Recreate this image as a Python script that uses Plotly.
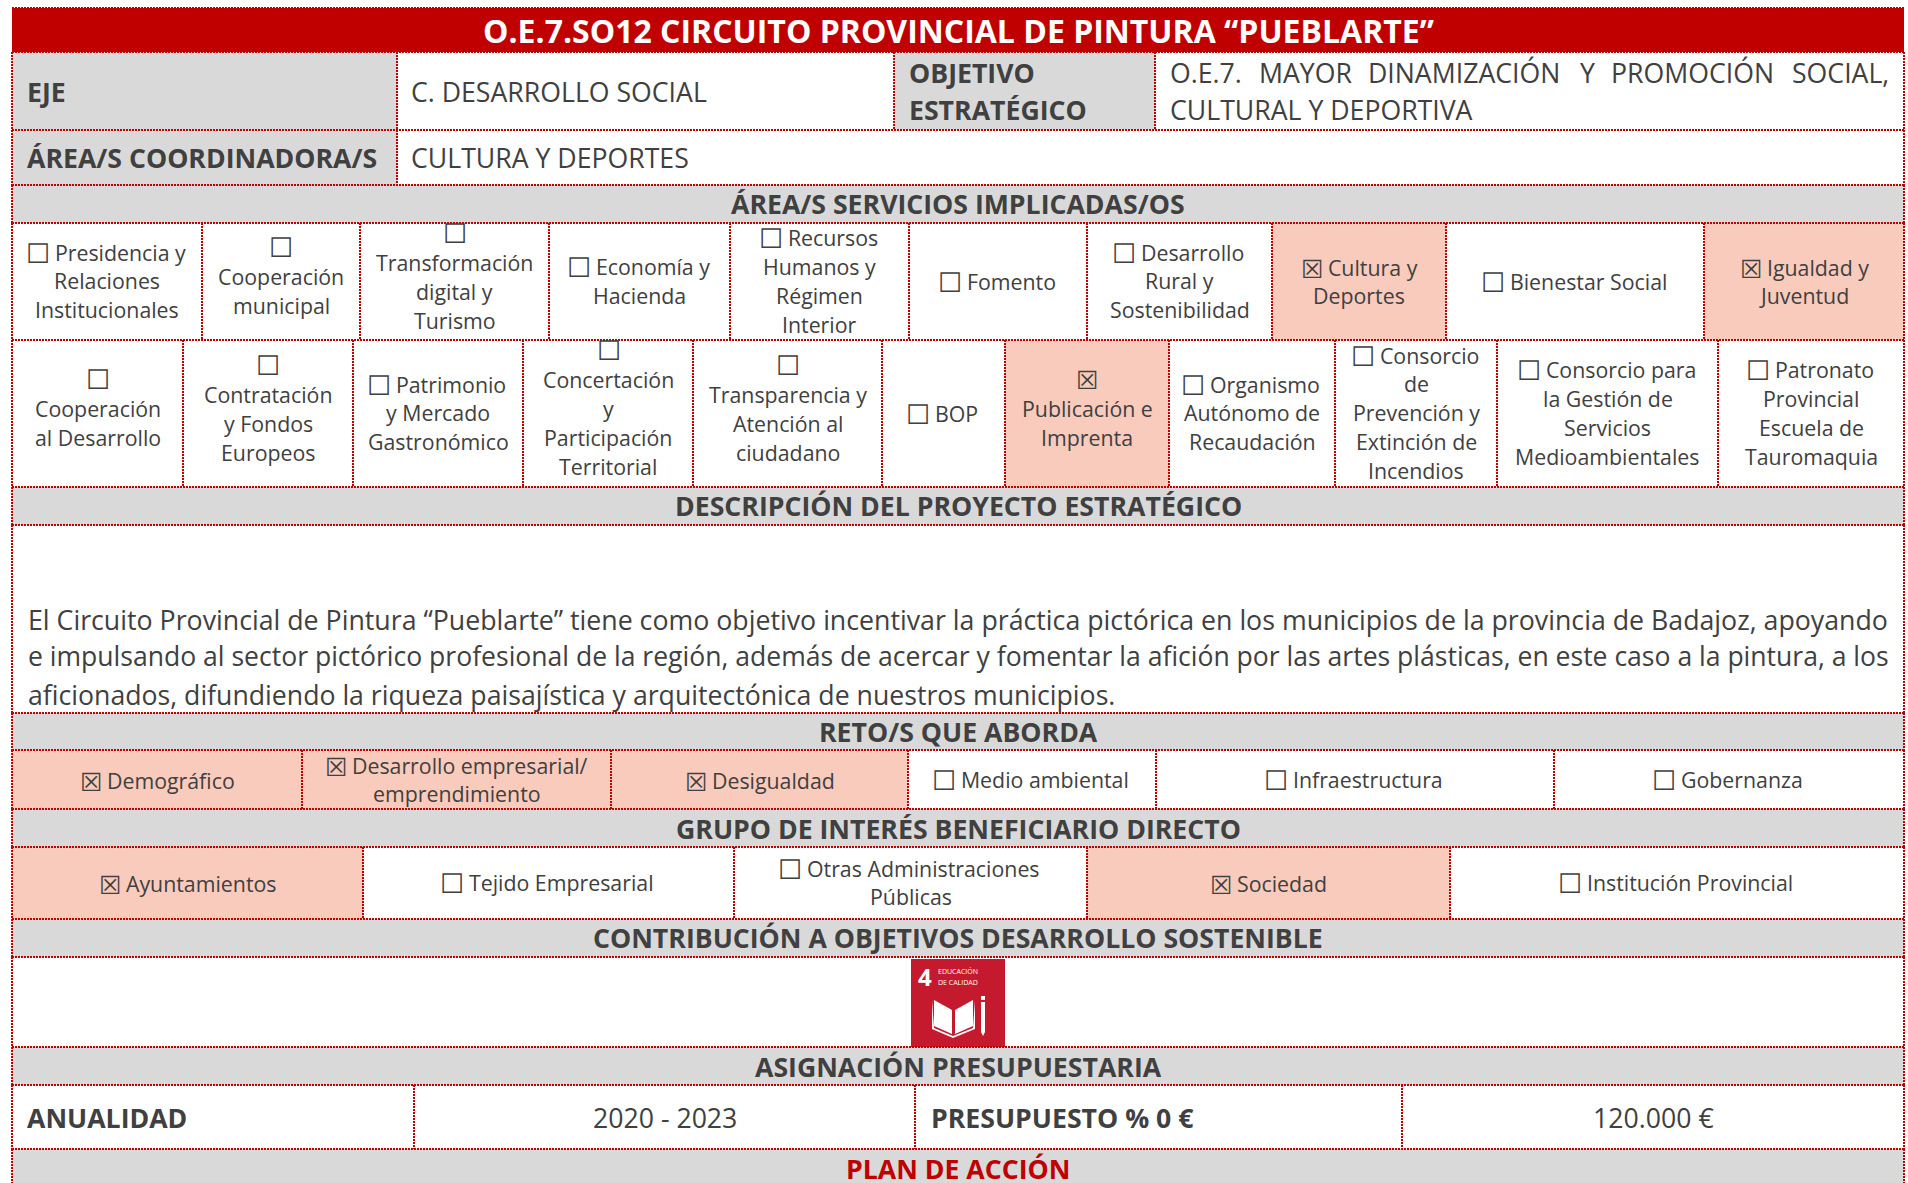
import plotly.graph_objects as go

RED = "#C00000"; GRAY = "#D9D9D9"; PEACH = "#F8CBBC"; TXT = "#404040"
FONT = "Open Sans"
SMALL, BODY, BIG = 21.33, 26.67, 32

TITLE = "O.E.7.SO12 CIRCUITO PROVINCIAL DE PINTURA “PUEBLARTE”"
HEADERS = ["ÁREA/S SERVICIOS IMPLICADAS/OS", "DESCRIPCIÓN DEL PROYECTO ESTRATÉGICO", "RETO/S QUE ABORDA",
           "GRUPO DE INTERÉS BENEFICIARIO DIRECTO", "CONTRIBUCIÓN A OBJETIVOS DESARROLLO SOSTENIBLE",
           "ASIGNACIÓN PRESUPUESTARIA", "PLAN DE ACCIÓN"]
HEADER_Y = [(185, 223), (487, 525), (713, 750), (809, 847), (919, 957), (1047, 1085), (1149, 1190)]
HEADER_TEXT_Y = [203, 505, 731, 828, 937, 1066, 1168]

ROW4 = ["☐ Presidencia y<br>Relaciones<br>Institucionales", "☐<br>Cooperación<br>municipal", "☐<br>Transformación<br>digital y<br>Turismo",
        "☐ Economía y<br>Hacienda", "☐ Recursos<br>Humanos y<br>Régimen<br>Interior", "☐ Fomento", "☐ Desarrollo<br>Rural y<br>Sostenibilidad",
        "☒ Cultura y<br>Deportes", "☐ Bienestar Social", "☒ Igualdad y<br>Juventud"]
ROW4_X = [12, 202, 360, 549, 730, 909, 1087, 1272, 1446, 1704, 1904]
ROW5 = ["☐<br>Cooperación<br>al Desarrollo", "☐<br>Contratación<br>y Fondos<br>Europeos", "☐ Patrimonio<br>y Mercado<br>Gastronómico",
        "☐<br>Concertación<br>y<br>Participación<br>Territorial", "☐<br>Transparencia y<br>Atención al<br>ciudadano", "☐ BOP",
        "☒<br>Publicación e<br>Imprenta", "☐ Organismo<br>Autónomo de<br>Recaudación", "☐ Consorcio<br>de<br>Prevención y<br>Extinción de<br>Incendios",
        "☐ Consorcio para<br>la Gestión de<br>Servicios<br>Medioambientales", "☐ Patronato<br>Provincial<br>Escuela de<br>Tauromaquia"]
ROW5_X = [12, 183, 353, 523, 693, 882, 1005, 1169, 1335, 1497, 1718, 1904]
RETOS = ["☒ Demográfico", "☒ Desarrollo empresarial/<br>emprendimiento", "☒ Desigualdad", "☐ Medio ambiental", "☐ Infraestructura", "☐ Gobernanza"]
RETOS_X = [12, 302, 611, 908, 1156, 1554, 1904]
GRUPOS = ["☒ Ayuntamientos", "☐ Tejido Empresarial", "☐ Otras Administraciones<br>Públicas", "☒ Sociedad", "☐ Institución Provincial"]
GRUPOS_X = [12, 363, 734, 1087, 1450, 1904]
PARRAFO = ["El Circuito Provincial de Pintura “Pueblarte” tiene como objetivo incentivar la práctica pictórica en los municipios de la provincia de Badajoz, apoyando",
           "e impulsando al sector pictórico profesional de la región, además de acercar y fomentar la afición por las artes plásticas, en este caso a la pintura, a los",
           "aficionados, difundiendo la riqueza paisajística y arquitectónica de nuestros municipios."]
PARRAFO_Y = [619, 655.5, 694]
PARRAFO_SIZE = [26.74, 26.55, 26.67]
OE_WORDS = ["O.E.7.", "MAYOR", "DINAMIZACIÓN", "Y", "PROMOCIÓN", "SOCIAL,"]
OE_X = [1170, 1259, 1368, 1580, 1611, 1792]

shapes = []; ann = []

def fill(x0, x1, y0, y1, c):
    shapes.append(dict(type="rect", x0=x0, x1=x1, y0=y0, y1=y1, fillcolor=c, line_width=0, layer="below"))

def hline(x0, x1, y):
    shapes.append(dict(type="line", x0=x0, x1=x1, y0=y, y1=y, line=dict(color=RED, width=2, dash="2px,1px"), layer="below"))

def vline(x, y0, y1):
    shapes.append(dict(type="line", x0=x, x1=x, y0=y0, y1=y1, line=dict(color=RED, width=2, dash="2px,1px"), layer="below"))

def text(x, y, s, size=BODY, bold=False, color=TXT, anchor="center", family=FONT, v="middle"):
    if bold:
        s = "<b>" + s + "</b>"
    ann.append(dict(x=x, y=y, text=s, showarrow=False, xref="x", yref="y", xanchor=anchor, yanchor=v,
                    align=anchor, borderpad=0, borderwidth=0, font=dict(family=family, size=size, color=color)))

BOX_E = '<span style="font-size:27px;baseline-shift:-2px">☐</span>'
BOX_X = '<span style="font-size:25px;baseline-shift:-2px">☒</span>'
BOX_E_TOP = '<span style="font-size:27px">☐</span>'
BOX_X_TOP = '<span style="font-size:25px">☒</span>'

def boxed(line):
    line = line.replace("☐ ", BOX_E + '<span style="font-size:19px"> </span>')
    line = line.replace("☒ ", BOX_X + '<span style="font-size:19px"> </span>')
    line = line.replace("☐<br>", BOX_E_TOP + "<br>")
    line = line.replace("☒<br>", BOX_X_TOP + "<br>")
    return line

def row(labels, xs, y0, y1, size=SMALL, pitch=29):
    for i, s in enumerate(labels):
        if "☒" in s:
            fill(xs[i], xs[i + 1], y0, y1, PEACH)
    for i, s in enumerate(labels):
        lines = s.split("<br>")
        cx, cy = (xs[i] + xs[i + 1]) / 2, (y0 + y1) / 2 - 1
        top = cy - pitch * (len(lines) - 1) / 2
        if lines[0] in ("☐", "☒"):
            # the checkbox and the first label line share one text
            text(cx, top + pitch - 3.6 + 14.5, boxed(lines[0] + "<br>" + lines[1]), size=size, v="bottom")
            for k in range(2, len(lines)):
                text(cx, top + k * pitch - 3.6 + 14.5, lines[k], size=size, v="bottom")
        else:
            for k, line in enumerate(lines):
                extra = 4.5 if k == 0 else 0
                dx = -1.5 if "☐" in line else 0
                text(cx + dx, top + k * pitch + 14.5 + extra, boxed(line), size=size, v="bottom")
    for x in xs:
        vline(x, y0, y1)

L, R = 12, 1904
# title
fill(L, R, 8, 52, RED)
text((L + R) / 2, 30, TITLE, size=BIG, bold=True, color="#FFFFFF")
# EJE / OBJETIVO
fill(L, 397, 52, 185, GRAY)
fill(894, 1155, 52, 130, GRAY)
text(27, 91, "EJE", BODY, True, anchor="left")
text(411, 91, "C. DESARROLLO SOCIAL", BODY, anchor="left")
text(909, 72.5, "OBJETIVO", BODY, True, anchor="left")
text(909, 109.5, "ESTRATÉGICO", BODY, True, anchor="left")
for w, x in zip(OE_WORDS, OE_X):
    text(x, 72.5, w, BODY, anchor="left")
text(1170, 109.5, "CULTURAL Y DEPORTIVA", BODY, anchor="left")
text(27, 157, "ÁREA/S COORDINADORA/S", BODY, True, anchor="left")
text(411, 157, "CULTURA Y DEPORTES", BODY, anchor="left")
for x, y0, y1 in [(L, 52, 185), (397, 52, 185), (894, 52, 130), (1155, 52, 130), (R, 52, 185)]:
    vline(x, y0, y1)
hline(L, R, 130)
# headers
for h, (y0, y1), ty in zip(HEADERS, HEADER_Y, HEADER_TEXT_Y):
    fill(L, R, y0, y1, GRAY)
    vline(L, y0, y1); vline(R, y0, y1)
    text((L + R) / 2, ty, h, size=BODY, bold=True, color=RED if h == "PLAN DE ACCIÓN" else TXT)
# check rows
row(ROW4, ROW4_X, 223, 340)
row(ROW5, ROW5_X, 340, 487)
row(RETOS, RETOS_X, 750, 809)
row(GRUPOS, GRUPOS_X, 847, 919)
# paragraph
vline(L, 525, 713); vline(R, 525, 713)
for s, y, z in zip(PARRAFO, PARRAFO_Y, PARRAFO_SIZE):
    text(28, y, s, z, anchor="left")
# ODS icon
vline(L, 957, 1047); vline(R, 957, 1047)
fill(911, 1005, 959, 1047, "#C5192D")
text(925, 976, "4", 24, True, "#FFFFFF")
text(938, 971, "EDUCACIÓN", 7, False, "#FFFFFF", anchor="left")
text(938, 982, "DE CALIDAD", 7, False, "#FFFFFF", anchor="left")
for p in ["M934,1000 L952,1010 L952,1034 L934,1026 Z", "M955,1010 L973,1000 L973,1026 L955,1034 Z",
          "M932,1000 L932,1029 L953,1038 L975,1029 L975,1000 L973,1028 L953,1036 L934,1028 Z",
          "M981,1002 L985,1002 L985,1032 L983,1036 L981,1032 Z", "M981,996 L985,996 L985,1000 L981,1000 Z"]:
    shapes.append(dict(type="path", path=p, fillcolor="#FFFFFF", line_width=0, layer="below"))
# budget
vline(L, 1085, 1149); vline(R, 1085, 1149)
for x in [414, 915, 1402]:
    vline(x, 1085, 1149)
text(27, 1117, "ANUALIDAD", BODY, True, anchor="left")
text(665, 1117, "2020 - 2023", BODY)
text(931, 1117, "PRESUPUESTO % 0 €", BODY, True, anchor="left")
text(1653, 1117, "120.000 €", BODY)
# horizontal lines
for y in [8, 52, 185, 223, 340, 487, 525, 713, 750, 809, 847, 919, 957, 1047, 1085, 1149]:
    hline(L, R, y)

fig = go.Figure()
fig.update_layout(width=1908, height=1183, margin=dict(l=0, r=0, t=0, b=0), paper_bgcolor="white", plot_bgcolor="white",
                  xaxis=dict(range=[0, 1908], visible=False, fixedrange=True),
                  yaxis=dict(range=[1183, 0], visible=False, fixedrange=True),
                  shapes=shapes, annotations=ann, showlegend=False)
fig.write_html("out.html", config=dict(displayModeBar=False),
               post_script="document.body.style.margin='0';document.body.style.overflow='hidden';")
